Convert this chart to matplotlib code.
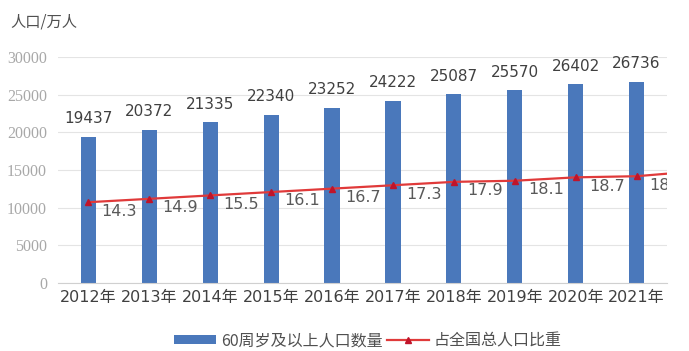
import matplotlib
matplotlib.use("Agg")
import matplotlib.pyplot as plt
import matplotlib.transforms as mtransforms
from matplotlib.lines import Line2D
from matplotlib.patches import Patch

plt.rcParams['font.family'] = ['DejaVu Sans', 'Noto Sans CJK SC']

years = ["2012年", "2013年", "2014年", "2015年", "2016年", "2017年", "2018年", "2019年", "2020年", "2021年"]
population = [19437, 20372, 21335, 22340, 23252, 24222, 25087, 25570, 26402, 26736]
share = [14.3, 14.9, 15.5, 16.1, 16.7, 17.3, 17.9, 18.1, 18.7, 18.9]
share_next = 19.8  # following year, cut off by the crop
yticks = [0, 5000, 10000, 15000, 20000, 25000, 30000]

fig = plt.figure(figsize=(6.89, 3.51), dpi=100)
ax = fig.add_axes([58/689, 1-283/351, (667-58)/689, (283-57)/351])
ax2 = ax.twinx()

x = list(range(len(years)))
ax.bar(x, population, width=0.25, color='#4a78bb', zorder=2)
for xi, v in zip(x, population):
    ax.annotate(str(v), (xi, v), xytext=(0, 7.5), textcoords='offset points',
                ha='center', va='bottom', fontsize=11, color='#404040',
                family=['DejaVu Sans'])

ax.set_ylim(0, 30000)
ax.set_yticks(yticks)
ax.set_yticklabels([str(t) for t in yticks], fontsize=11.5, color='#a8a8a8',
                   family=['Liberation Serif'])
ax.set_xlim(-0.5, len(years) - 0.5)
ax.set_xticks(x)
ax.set_xticklabels(years, fontsize=11.5, color='#404040')
ax.tick_params(axis='both', length=0)
ax.tick_params(axis='y', pad=8)
ax.tick_params(axis='x', pad=5)
ax.grid(axis='y', color='#e4e4e4', linewidth=0.8, zorder=0)
for s in ['top', 'right', 'left']:
    ax.spines[s].set_visible(False)
ax.spines['bottom'].set_color('#d0d0d0')

ax2.set_ylim(0, 40)
ax2.set_yticks([])
for s in ax2.spines.values():
    s.set_visible(False)
ax2.plot(x + [len(years)], share + [share_next], color='#e03a3a', linewidth=1.6,
         zorder=3, clip_on=True)
ax2.plot(x, share, linestyle='none', marker='^', markersize=4.5,
         color='#c0142a', zorder=4)
off = mtransforms.offset_copy(ax2.transData, fig=fig, x=9.5, y=-1, units='points')
for xi, v in zip(x, share):
    ax2.text(xi, v, f"{v}", transform=off, ha='left', va='top', fontsize=11.5,
             color='#595959', family=['DejaVu Sans'], clip_on=True)

fig.text(10/689, 1-22/351, "人口/万人", fontsize=11, color='#505050',
         ha='left', va='center', family=['Noto Sans CJK SC'])

handles = [Patch(facecolor='#4a78bb', edgecolor='none'),
           Line2D([0], [0], color='#e03a3a', marker='^', markersize=5,
                  markerfacecolor='#c0142a', markeredgecolor='#c0142a', linewidth=1.6)]
fig.legend(handles, ["60周岁及以上人口数量", "占全国总人口比重"], loc='center',
           bbox_to_anchor=(368/689, 1-341/351), ncol=2, frameon=False,
           handlelength=2.6, handleheight=0.5, columnspacing=0.3,
           handletextpad=0.3, labelcolor='#505050',
           prop={'family': ['Noto Sans CJK SC'], 'size': 11.5})

fig.savefig("out.png", dpi=100)
